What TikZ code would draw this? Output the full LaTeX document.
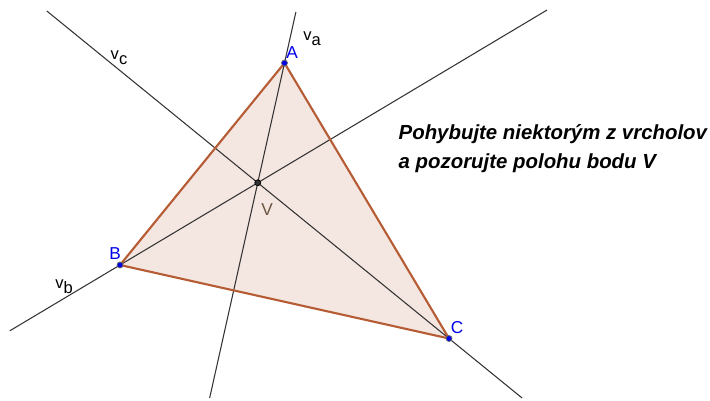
\documentclass[tikz,border=0pt]{standalone}
\usepackage{fontspec}
\setmainfont{Liberation Sans}
\usetikzlibrary{calc}
\definecolor{edgecolor}{RGB}{182,92,52}
\definecolor{fillcolor}{RGB}{244,230,225}
\definecolor{pointcolor}{RGB}{0,0,235}
\definecolor{vlabelcolor}{RGB}{105,85,65}
\tikzset{
    % --- styles ---
    altitude/.style={line width=0.3pt, draw=black!80},
    side_line/.style={line width=0.6pt, draw=edgecolor, line join=round},
    vertex_dot/.style={fill=pointcolor, draw=black!60, line width=0.2pt},
    center_dot/.style={fill=black!80, draw=black, line width=0.2pt},
    vertex_label/.style={font=\fontsize{4.9}{6}\selectfont, text=pointcolor, inner sep=0pt},
    line_label/.style={font=\fontsize{4.7}{6}\selectfont, inner sep=0pt},
    msg/.style={font=\fontsize{5.8}{8.2}\selectfont\bfseries\itshape, inner sep=0pt, anchor=base west}
}

\begin{document}
\begin{tikzpicture}[x=0.01cm, y=-0.01cm]
    \useasboundingbox (0,0) rectangle (710,400);

    % vertices
    \coordinate (A) at (284.5,63);
    \coordinate (B) at (120,265);
    \coordinate (C) at (449,338.5);

    % feet of the altitudes and the orthocentre
    \coordinate (FA) at ($(B)!(A)!(C)$);
    \coordinate (FB) at ($(A)!(B)!(C)$);
    \coordinate (FC) at ($(A)!(C)!(B)$);
    \coordinate (V) at (intersection of A--FA and B--FB);

    % ends of the lines
    \coordinate (va_top) at ($(V)!1.426!(A)$);
    \coordinate (va_bot) at ($(V)!-1.797!(A)$);
    \coordinate (vb_left) at ($(V)!1.80!(B)$);
    \coordinate (vb_right) at ($(V)!-2.10!(B)$);
    \coordinate (vc_top) at ($(V)!-1.103!(C)$);
    \coordinate (vc_bot) at ($(V)!1.382!(C)$);

    \fill[fillcolor] (A) -- (B) -- (C) -- cycle;

    \draw[altitude] (va_top) -- (va_bot);
    \draw[altitude] (vb_left) -- (vb_right);
    \draw[altitude] (vc_top) -- (vc_bot);

    \draw[side_line] (A) -- (B) -- (C) -- cycle;

    \filldraw[vertex_dot] (A) circle (0.85pt);
    \filldraw[vertex_dot] (B) circle (0.85pt);
    \filldraw[vertex_dot] (C) circle (0.85pt);
    \filldraw[center_dot] (V) circle (0.85pt);

    \node[vertex_label] (lab_A) at (292,53) {A};
    \node[vertex_label] (lab_B) at (115,254) {B};
    \node[vertex_label] (lab_C) at (457,328) {C};
    \node[vertex_label, text=vlabelcolor] (lab_V) at (267,210) {V};

    \node[line_label] (lab_va) at (312,39) {v\raisebox{-0.6ex}{a}};
    \node[line_label] (lab_vb) at (64,287) {v\raisebox{-0.6ex}{b}};
    \node[line_label] (lab_vc) at (119,58) {v\raisebox{-0.6ex}{c}};

    \node[msg] (msg_top) at (398,139) {Pohybujte niektorým z vrcholov};
    \node[msg] (msg_bot) at (398,168) {a pozorujte polohu bodu V};
\end{tikzpicture}
\end{document}
